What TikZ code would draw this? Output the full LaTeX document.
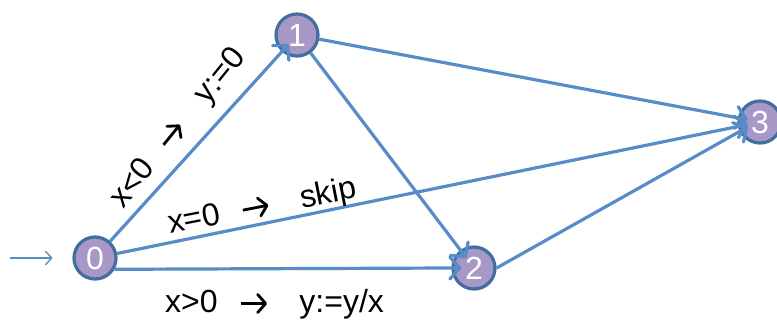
\documentclass[tikz,border=0pt]{standalone}
\usepackage{fontspec}
\setmainfont{Liberation Sans}
\usetikzlibrary{arrows.meta,shadows}
\definecolor{nodefill}{RGB}{168,152,200}
\definecolor{nodeborder}{RGB}{66,110,160}
\definecolor{edgecol}{RGB}{88,140,200}
\newcommand\myarr{\tikz[baseline=0pt]{\draw[black, line width=2.8pt, -{Straight Barb[length=8pt,width=18pt,round]}] (0pt,9.5pt) -- (26pt,9.5pt);}}
\newcommand\gapA{\hspace{22pt}}
\newcommand\gapB{\hspace{31pt}}
\tikzset{
 st/.style={circle, fill=nodefill, draw=nodeborder, line width=3.2pt, minimum size=42pt, inner sep=0pt, text=white,
   font=\fontsize{32}{32}\selectfont, drop shadow={opacity=0.2, shadow xshift=1.5pt, shadow yshift=-1.5pt}},
 tr/.style={draw=edgecol, line width=3.2pt, -{Straight Barb[length=10pt,width=22pt,round]}, shorten >=-10pt},
 lbl/.style={font=\fontsize{32}{32}\selectfont, inner sep=0pt, anchor=base west}
}
\begin{document}
\begin{tikzpicture}[x=1pt,y=-1pt]
\useasboundingbox (0,0) rectangle (777,320);
\node[st] (n0) at (95,258) {0};
\node[st] (n1) at (297,35) {1};
\node[st] (n2) at (474,268) {2};
\node[st] (n3) at (760,122) {3};
\coordinate (in) at (10,258);
\draw[draw=edgecol, line width=1.4pt, -{Straight Barb[length=6pt,width=13pt,round]}, shorten >=20pt] (in) -- (n0);
\draw[tr] (n0) -- (n1);
\draw[tr] (n0) -- (n3);
\draw[tr] (n0.-30) -- (n2.180);
\draw[tr] (n1) -- (n3);
\draw[tr] (n1) -- (n2);
\draw[tr] (n2.east) -- (n3.205);
\node[lbl, rotate=51] (l01) at (123,210) {x<0\gapA\myarr\gapB y:=0};
\node[lbl, rotate=11] (l03) at (170,234) {x=0\gapA\myarr\gapB skip};
\node[lbl] (l02) at (165,313) {x>0\gapA\myarr\gapB y:=y/x};
\end{tikzpicture}
\end{document}
